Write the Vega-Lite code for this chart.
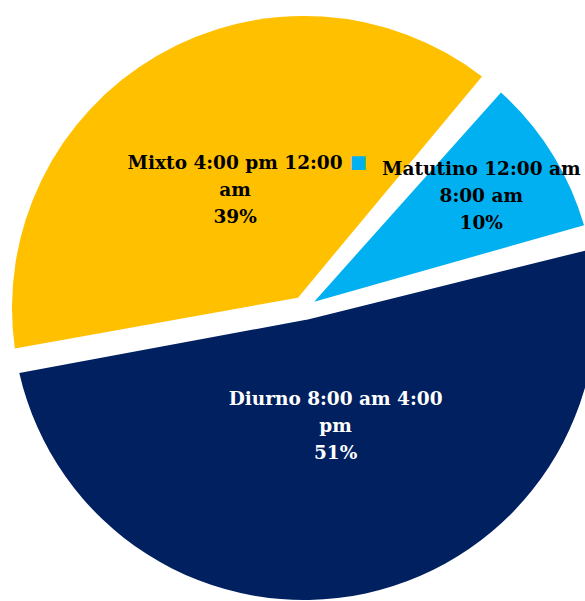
{
  "$schema": "https://vega.github.io/schema/vega-lite/v6.json",
  "width": 585,
  "height": 601,
  "autosize": {"type": "fit", "contains": "padding"},
  "padding": {"left": 23, "top": 15, "right": 0, "bottom": 0},
  "background": "white",
  "data": {
    "values": [
      {"turno": "Matutino", "orden": 1, "pct": 10, "label": "Matutino 12:00 am\n8:00 am\n10%"},
      {"turno": "Diurno", "orden": 2, "pct": 51, "label": "Diurno 8:00 am 4:00\npm\n51%"},
      {"turno": "Mixto", "orden": 3, "pct": 39, "label": "Mixto 4:00 pm 12:00\nam\n39%"}
    ]
  },
  "encoding": {
    "theta": {"field": "pct", "type": "quantitative", "stack": true, "scale": {"range": [0.698, 6.9812]}},
    "order": {"field": "orden", "type": "quantitative", "sort": "ascending"}
  },
  "layer": [
    {
      "mark": {"type": "arc", "outerRadius": 292, "innerRadius": 12, "padAngle": 0.085},
      "encoding": {
        "color": {
          "field": "turno",
          "type": "nominal",
          "scale": {"domain": ["Matutino", "Diurno", "Mixto"], "range": ["#00B0F0", "#002060", "#FFC000"]},
          "legend": null
        }
      }
    },
    {
      "mark": {"type": "text", "radius": 137, "dy": -27, "font": "DejaVu Serif", "fontWeight": "bold", "fontSize": 18.5, "lineBreak": "\n", "lineHeight": 27, "align": "center", "baseline": "middle"},
      "encoding": {
        "text": {"condition": {"test": "datum.turno === 'Mixto'", "field": "label"}, "value": ""},
        "color": {"value": "#000000"}
      }
    },
    {
      "mark": {"type": "text", "radius": 209, "dy": -28, "font": "DejaVu Serif", "fontWeight": "bold", "fontSize": 18.5, "lineBreak": "\n", "lineHeight": 27, "align": "center", "baseline": "middle"},
      "encoding": {
        "text": {"condition": {"test": "datum.turno === 'Matutino'", "field": "label"}, "value": ""},
        "color": {"value": "#000000"}
      }
    },
    {
      "mark": {"type": "text", "radius": 209, "dx": -123, "dy": -34, "font": "DejaVu Sans", "fontSize": 18, "align": "center", "baseline": "middle"},
      "encoding": {
        "text": {"condition": {"test": "datum.turno === 'Matutino'", "value": "■"}, "value": ""},
        "color": {"value": "#00B0F0"}
      }
    },
    {
      "mark": {"type": "text", "radius": 121, "dx": 6, "dy": -27, "font": "DejaVu Serif", "fontWeight": "bold", "fontSize": 18.5, "lineBreak": "\n", "lineHeight": 27, "align": "center", "baseline": "middle"},
      "encoding": {
        "text": {"condition": {"test": "datum.turno === 'Diurno'", "field": "label"}, "value": ""},
        "color": {"value": "#FFFFFF"}
      }
    }
  ],
  "config": {"view": {"stroke": null}}
}
